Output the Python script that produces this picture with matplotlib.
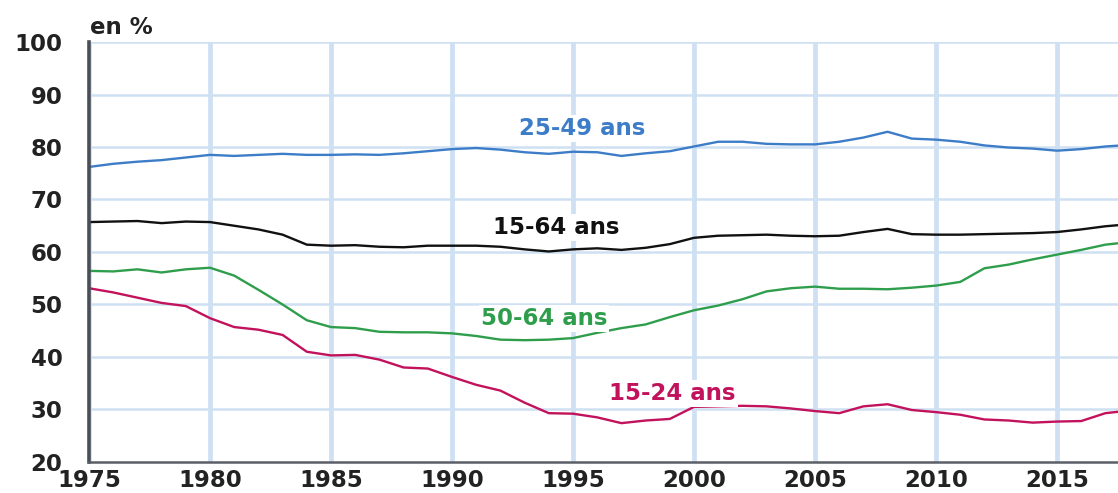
import numpy as np
import matplotlib
matplotlib.use("Agg")
import matplotlib.pyplot as plt

# taux d'emploi par tranche d'age, 1975-2018
years = list(range(1975, 2019))

age_25_49 = [76.2, 76.8, 77.2, 77.5, 78.0, 78.5, 78.3, 78.5, 78.7, 78.5,
             78.5, 78.6, 78.5, 78.8, 79.2, 79.6, 79.8, 79.5, 79.0, 78.7,
             79.1, 79.0, 78.3, 78.8, 79.2, 80.1, 81.0, 81.0, 80.6, 80.5,
             80.5, 81.0, 81.8, 82.9, 81.6, 81.4, 81.0, 80.3, 79.9, 79.7,
             79.3, 79.6, 80.1, 80.4]

age_15_64 = [65.7, 65.8, 65.9, 65.5, 65.8, 65.7, 65.0, 64.3, 63.3, 61.4,
             61.2, 61.3, 61.0, 60.9, 61.2, 61.2, 61.2, 61.0, 60.5, 60.1,
             60.5, 60.7, 60.4, 60.8, 61.5, 62.7, 63.1, 63.2, 63.3, 63.1,
             63.0, 63.1, 63.8, 64.4, 63.4, 63.3, 63.3, 63.4, 63.5, 63.6,
             63.8, 64.3, 64.9, 65.3]

age_50_64 = [56.4, 56.3, 56.7, 56.1, 56.7, 57.0, 55.5, 52.8, 50.0, 47.0,
             45.7, 45.5, 44.8, 44.7, 44.7, 44.5, 44.0, 43.3, 43.2, 43.3,
             43.6, 44.6, 45.5, 46.2, 47.6, 48.9, 49.8, 51.0, 52.5, 53.1,
             53.4, 53.0, 53.0, 52.9, 53.2, 53.6, 54.3, 56.9, 57.6, 58.6,
             59.5, 60.4, 61.4, 61.9]

age_15_24 = [53.1, 52.3, 51.3, 50.3, 49.7, 47.4, 45.7, 45.2, 44.2, 41.0,
             40.3, 40.4, 39.5, 38.0, 37.8, 36.2, 34.7, 33.6, 31.3, 29.3,
             29.2, 28.5, 27.4, 27.9, 28.2, 30.5, 30.6, 30.7, 30.6, 30.2,
             29.7, 29.3, 30.6, 31.0, 29.9, 29.5, 29.0, 28.1, 27.9, 27.5,
             27.7, 27.8, 29.3, 29.8]

labels = ["25-49 ans", "15-64 ans", "50-64 ans", "15-24 ans"]
colors = ["#3d7dc8", "#111111", "#2f9e4c", "#c2125c"]
label_pos = [(1995.4, 83.6), (1994.3, 64.7), (1993.8, 47.4), (1999.1, 33.1)]

fig = plt.figure(figsize=(11.18, 4.93), dpi=100)
ax = fig.add_axes([0.0796, 0.0629, 0.9204, 0.8519])

grid_col = "#cfe0f3"
for x in range(1975, 2020, 5):
    ax.axvline(x, color=grid_col, lw=3.4, zorder=0)
for y in range(30, 101, 10):
    ax.axhline(y, color=grid_col, lw=1.8, zorder=0)

series = [age_25_49, age_15_64, age_50_64, age_15_24]
for vals, col in zip(series, colors):
    ax.plot(years, vals, color=col, lw=1.7, zorder=2)

for lab, col, (lx, ly) in zip(labels, colors, label_pos):
    ax.text(lx, ly, lab, color=col, fontsize=16.5, fontweight="bold",
            ha="center", va="center", zorder=3,
            bbox=dict(facecolor="white", edgecolor="none", pad=1.5))

ax.set_xlim(1975, 2017.52)
ax.set_ylim(20, 100)
ax.set_xticks(range(1975, 2020, 5))
ax.set_yticks(range(20, 101, 10))
ax.tick_params(axis="both", length=0, labelsize=16.5, labelcolor="#222222")
for t in ax.get_xticklabels() + ax.get_yticklabels():
    t.set_fontweight("bold")
ax.tick_params(axis="y", pad=19)
ax.tick_params(axis="x", pad=5)

for s in ["top", "right"]:
    ax.spines[s].set_visible(False)
ax.spines["left"].set_color("#4a4f57")
ax.spines["left"].set_linewidth(2.6)
ax.spines["bottom"].set_color("#5a5f66")
ax.spines["bottom"].set_linewidth(1.8)
ax.spines["left"].set_zorder(4)
ax.spines["bottom"].set_zorder(4)

fig.text(0.0805, 0.944, "en %", fontsize=16.5, fontweight="bold",
         color="#222222", ha="left", va="center")

fig.savefig("out.png", dpi=100)
